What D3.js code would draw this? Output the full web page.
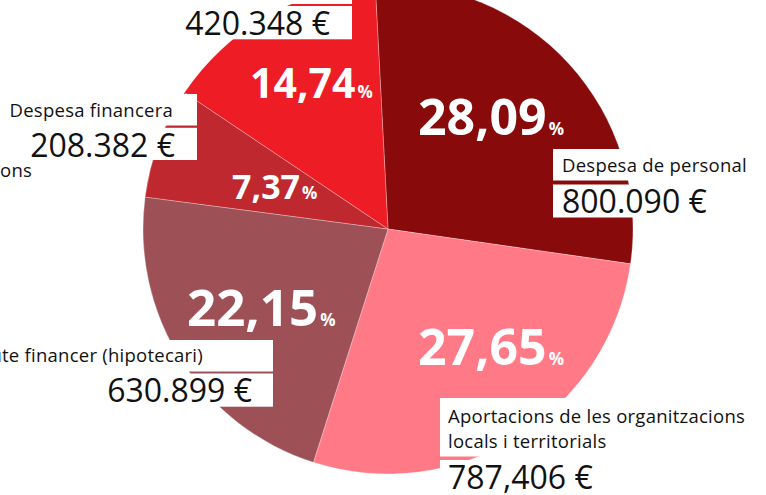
<!DOCTYPE html>
<html>
<head>
<meta charset="utf-8">
<script src="https://cdn.jsdelivr.net/npm/d3@7"></script>
<style>
  html, body { margin: 0; padding: 0; background: #fff; }
  svg { display: block; }
  text { font-family: "Open Sans", "DejaVu Sans", sans-serif; }
</style>
</head>
<body>
<svg id="chart" width="766" height="495"></svg>
<script>
// ---- data ----
const categories = [
  "Despesa de personal",
  "Aportacions de les organitzacions locals i territorials",
  "Deute financer (hipotecari)",
  "Despesa financera",
  ""
];
const values = [800090, 787406, 630899, 208382, 420348];
const percentLabels = ["28,09", "27,65", "22,15", "7,37", "14,74"];
const amountLabels = ["800.090 €", "787,406 €", "630.899 €", "208.382 €", "420.348 €"];
const colors = ["#880a0b", "#ff7a86", "#9d5055", "#c0282f", "#ed1c25"];

// ---- layout ----
const W = 766, H = 495;
const cx = 388, cy = 229, R = 245;
const offset = -3 * Math.PI / 180;

const svg = d3.select("#chart");

const pie = d3.pie().sort(null).value(d => d)
  .startAngle(offset).endAngle(offset + 2 * Math.PI);
const arcs = pie(values);
const arc = d3.arc().innerRadius(0).outerRadius(R);

const g = svg.append("g").attr("transform", `translate(${cx},${cy})`);
g.selectAll("path.slice").data(arcs).enter().append("path")
  .attr("class", "slice")
  .attr("d", arc)
  .attr("fill", (d, i) => colors[i])
  .attr("stroke", "rgba(255,255,255,0.35)")
  .attr("stroke-width", 0.8);

// percentage labels (white, bold)
const pctLayout = [
  {x: 418, y: 135, fs: 50},
  {x: 418, y: 365, fs: 50},
  {x: 187, y: 326, fs: 51},
  {x: 232, y: 199, fs: 34},
  {x: 250, y: 98,  fs: 41}
];
arcs.forEach((a, i) => {
  const p = pctLayout[i];
  const t = svg.append("text")
    .attr("x", p.x).attr("y", p.y)
    .attr("fill", "#fff").attr("font-weight", 700)
    .attr("font-size", p.fs);
  t.append("tspan").text(percentLabels[i]);
  t.append("tspan").attr("font-size", 17).attr("dx", 2).text("%");
});

// white label boxes
const boxes = [
  [553, 149, 213, 31.5], [553, 184.5, 160, 33],
  [440, 398, 326, 58.5], [440, 460, 170, 40],
  [0, 340, 273, 31.5], [100, 373.5, 173, 33.2],
  [0, 94, 197, 31.5], [0, 127.8, 197, 32.2],
  [180, -30, 172, 34], [180, 6, 172, 33.3]
];
svg.selectAll("rect.box").data(boxes).enter().append("rect")
  .attr("class", "box")
  .attr("x", d => d[0]).attr("y", d => d[1])
  .attr("width", d => d[2]).attr("height", d => d[3])
  .attr("fill", "#fff");

function txt(x, y, s, fs, anchor) {
  const t = svg.append("text").attr("x", x).attr("y", y)
    .attr("font-size", fs).attr("fill", "#111")
    .attr("text-anchor", anchor || "start").text(s);
  if (fs < 20) t.attr("letter-spacing", 0.25);
  return t;
}
const small = 18.5, big = 32;
// slice 0
txt(562, 171.5, categories[0], small);
txt(562, 213, amountLabels[0], big);
// slice 1
txt(448, 423, "Aportacions de les organitzacions", small);
txt(448, 448, "locals i territorials", small);
txt(448, 489, amountLabels[1], big);
// slice 2
txt(203, 361.5, categories[2], small, "end");
txt(252, 401.5, amountLabels[2], big, "end");
// slice 3
txt(173, 117, categories[3], small, "end");
txt(175, 157, amountLabels[3], big, "end");
txt(0, 177, "ons", small);
// slice 4
txt(330, 35, amountLabels[4], big, "end");
</script>
</body>
</html>
